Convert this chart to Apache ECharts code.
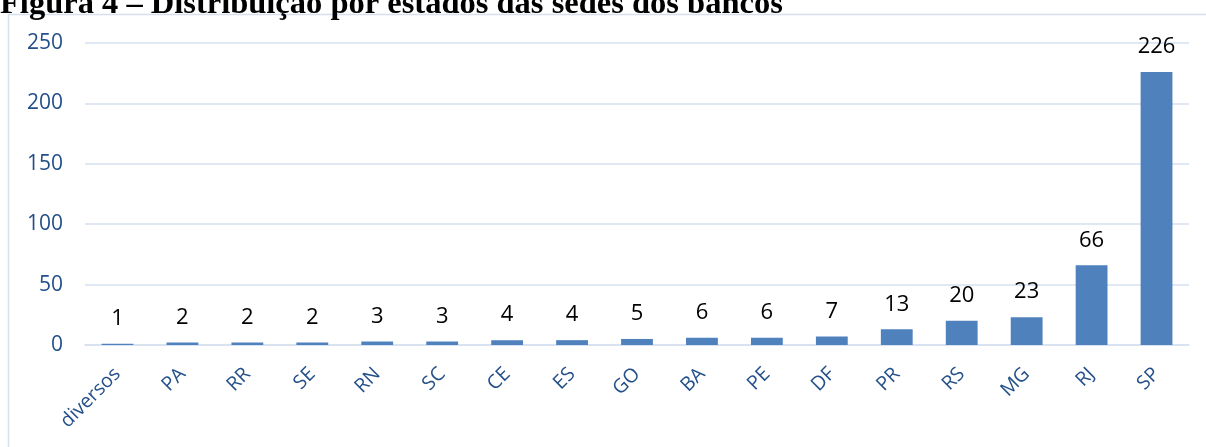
<!DOCTYPE html>
<html><head><meta charset="utf-8">
<script src="https://cdn.jsdelivr.net/npm/echarts@6/dist/echarts.min.js"></script>
<style>html,body{margin:0;padding:0;background:#fff;}#c{width:1206px;height:447px;}</style>
</head><body><div id="c"></div>
<script>
const categories = ['diversos','PA','RR','SE','RN','SC','CE','ES','GO','BA','PE','DF','PR','RS','MG','RJ','SP'];
const values = [1,2,2,2,3,3,4,4,5,6,6,7,13,20,23,66,226];
const yTicks = [0,50,100,150,200,250];
const titleText = 'Figura 4 – Distribuição por estados das sedes dos bancos';

const chart = echarts.init(document.getElementById('c'), null, {renderer:'canvas'});
chart.setOption({
  animation:false,
  backgroundColor:'#fff',
  title:{text:titleText,left:-5,top:-17,textStyle:{fontFamily:'Liberation Serif',fontWeight:'bold',fontSize:32.5,color:'#000'}},
  graphic:[{type:'rect',shape:{x:8.5,y:14.5,width:1230,height:460},style:{fill:'none',stroke:'#d6e0f0',lineWidth:1.5},silent:true,z:-1}],
  grid:{left:85,right:17,top:43,bottom:102},
  xAxis:{type:'category',data:categories,
    axisLine:{lineStyle:{color:'#d6e0f0',width:1.5}},axisTick:{show:false},
    axisLabel:{rotate:45,margin:26,fontFamily:'Open Sans',fontSize:19.5,color:'#24508a',interval:0}},
  yAxis:{type:'value',min:yTicks[0],max:yTicks[yTicks.length-1],interval:50,
    axisLine:{show:false},axisTick:{show:false},
    splitLine:{lineStyle:{color:'#d6e0f0',width:1.5}},
    axisLabel:{fontFamily:'Open Sans',fontSize:21,color:'#24508a',margin:22}},
  series:[{type:'bar',data:values,barWidth:'49%',itemStyle:{color:'#4f81bd'},
    label:{show:true,position:'top',distance:14,fontFamily:'Open Sans',fontSize:22,color:'#000'}}]
});
</script></body></html>
